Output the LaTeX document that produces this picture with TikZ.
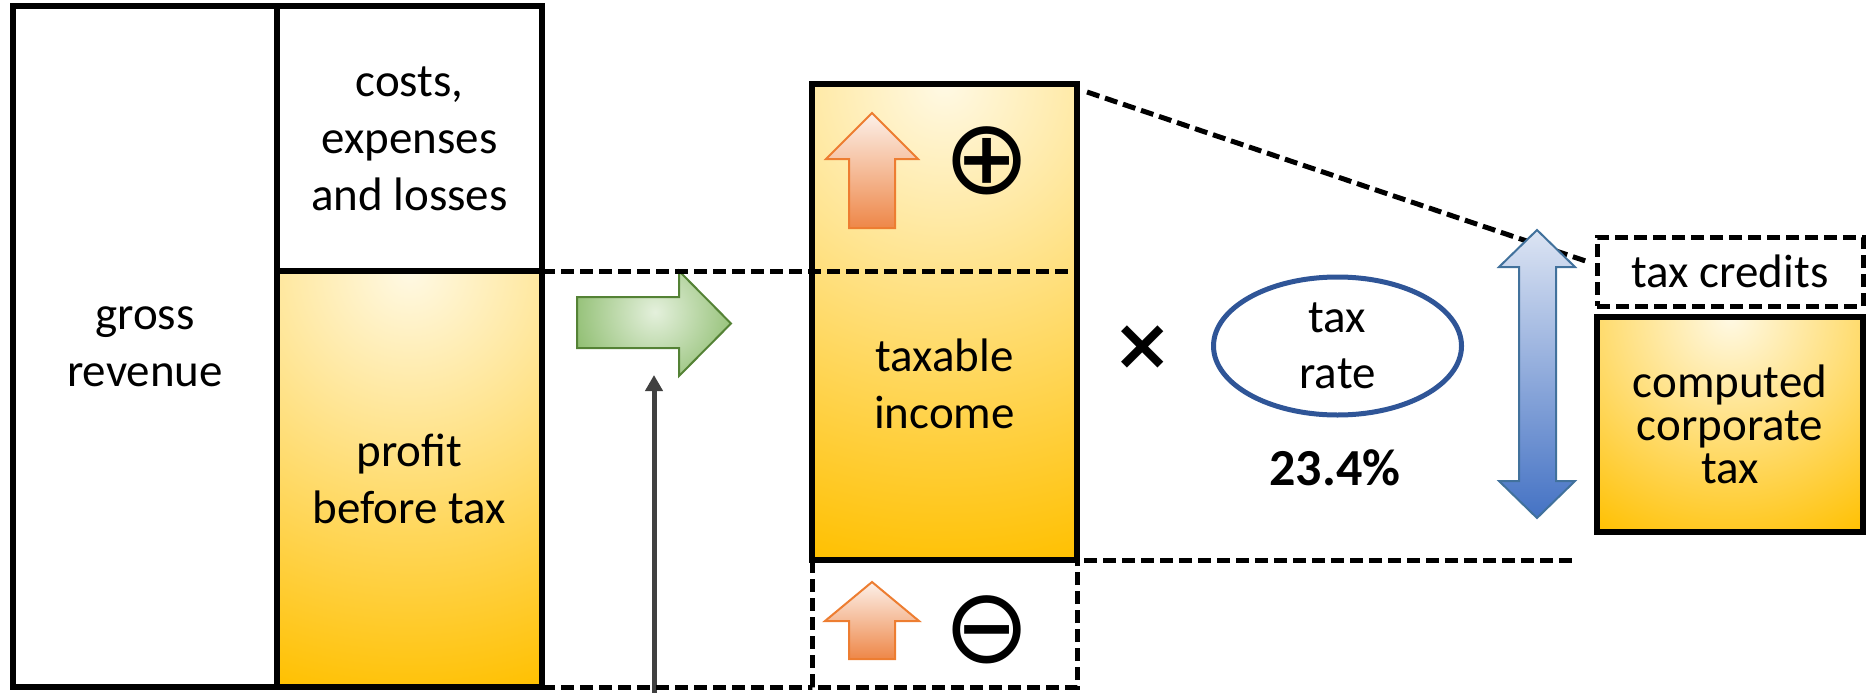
\documentclass[tikz,border=0pt]{standalone}
\usepackage{fontspec}
\setmainfont{Carlito}
\newfontfamily\symfont{DejaVu Sans}
\usetikzlibrary{shapes.geometric,arrows.meta}
\definecolor{gold}{RGB}{255,192,0}
\definecolor{goldlight}{RGB}{255,249,228}
\definecolor{greenlight}{RGB}{228,240,220}
\definecolor{greendark}{RGB}{130,182,96}
\definecolor{greenedge}{RGB}{84,130,53}
\definecolor{orangelight}{RGB}{252,240,233}
\definecolor{orangedark}{RGB}{238,135,72}
\definecolor{orangeedge}{RGB}{237,125,49}
\definecolor{bluelight}{RGB}{220,228,243}
\definecolor{bluedark}{RGB}{68,114,196}
\definecolor{blueedge}{RGB}{65,113,156}
\definecolor{ellblue}{RGB}{47,85,151}
\definecolor{arrowgray}{RGB}{64,64,64}
\pgfdeclareradialshading{goldglow}{\pgfpoint{0bp}{0bp}}{color(0bp)=(goldlight); color(25bp)=(gold); color(50bp)=(gold)}
\pgfdeclareradialshading{greenglow}{\pgfpoint{0bp}{0bp}}{color(0bp)=(greenlight); color(25bp)=(greendark); color(50bp)=(greendark)}
\tikzset{
  txt/.style={font=\fontsize{47}{57}\selectfont, align=center, inner sep=0pt},
  box/.style={draw, line width=5.5pt, inner sep=0pt, outer sep=0pt, rectangle, txt},
  dashline/.style={line width=5pt, dash pattern=on 13pt off 6pt},
  goldbox/.style={box, path picture={\shade[shading=goldglow] (path picture bounding box.north) circle (#1);}},
  blockarrow/.style={line width=2pt, line join=miter},
  symb/.style={inner sep=0pt, font=\symfont\fontsize{104}{104}\selectfont},
}
\begin{document}
\begin{tikzpicture}[x=1pt, y=-1pt]
\useasboundingbox (0,0) rectangle (1873,693);
% left column
\node[box, minimum width=264pt, minimum height=681pt] (gross) at (145,346.5) {gross\\revenue};
\node[box, minimum width=265pt, minimum height=265pt] (costs) at (409.5,138.5) {costs,\\expenses\\and losses};
\node[goldbox=436pt, minimum width=265pt, minimum height=416pt] (profit) at (409.5,479) {profit\\before tax};
% green arrow
\path[blockarrow, draw=greenedge, path picture={\shade[shading=greenglow] (655,312) circle (100pt);}]
  (577,297) -- (679,297) -- (679,271) -- (731,323.5) -- (679,376) -- (679,348) -- (577,348) -- cycle;
% gray arrow
\coordinate (gbot) at (654,693);
\coordinate (gtip) at (654,375);
\draw[arrowgray, line width=5pt, -{Triangle[length=16pt,width=17pt]}] (gbot) -- (gtip);
% taxable income
\node[goldbox=494pt, minimum width=265pt, minimum height=476pt] (taxable) at (944.5,322) {};
\node[txt] (taxtxt) at (944.5,384) {taxable\\income};
\draw[dashline] (profit.north east) -- (profit.north east -| taxable.east);
\draw[dashline] (profit.south east) -- (profit.south east -| taxable.west);
\draw[dashline] (taxable.south west) -- (taxable.south west |- profit.south) -| (taxable.south east);
% orange arrows
\path[blockarrow, draw=orangeedge, top color=orangelight, bottom color=orangedark]
  (872,113) -- (918,159) -- (895,159) -- (895,228) -- (849,228) -- (849,159) -- (826,159) -- cycle;
\path[blockarrow, draw=orangeedge, top color=orangelight, bottom color=orangedark]
  (872,582) -- (919,621) -- (895,621) -- (895,659) -- (849,659) -- (849,621) -- (825,621) -- cycle;
\node[symb] (oplus) at (987,161) {⊕};
\node[symb] (ominus) at (987,630) {⊖};
% multiply and tax rate
\node[inner sep=0pt, font=\symfont\bfseries\fontsize{72}{72}\selectfont] (times) at (1143,348) {×};
\node[ellipse, draw=ellblue, line width=5pt, minimum width=248pt, minimum height=138pt, txt, font=\fontsize{47}{56}\selectfont] (rate) at (1337.5,346) {tax\\rate};
\node[inner sep=0pt, font=\bfseries\fontsize{52}{52}\selectfont] (pct) at (1335,468) {23.4\%};
% right side
\node[box, dashline, minimum width=266pt, minimum height=69pt] (credits) at (1730,271.5) {tax credits};
\node[goldbox=253pt, minimum width=266pt, minimum height=215pt, font=\fontsize{47}{43}\selectfont] (computed) at (1730,424.5) {computed\\corporate\\tax};
\coordinate (rend) at (1574,560);
\draw[dashline] ([xshift=7pt]taxable.south east) -- (rend);
\draw[dashline] ([shift={(10,8)}]taxable.north east) -- ([shift={(-7,-9)}]credits.west);
% blue double arrow
\path[blockarrow, draw=blueedge, top color=bluelight, bottom color=bluedark]
  (1537,230) -- (1575,267) -- (1556,267) -- (1556,481) -- (1575,481) -- (1537,518) -- (1499,481) -- (1519,481) -- (1519,267) -- (1499,267) -- cycle;
\end{tikzpicture}
\end{document}
